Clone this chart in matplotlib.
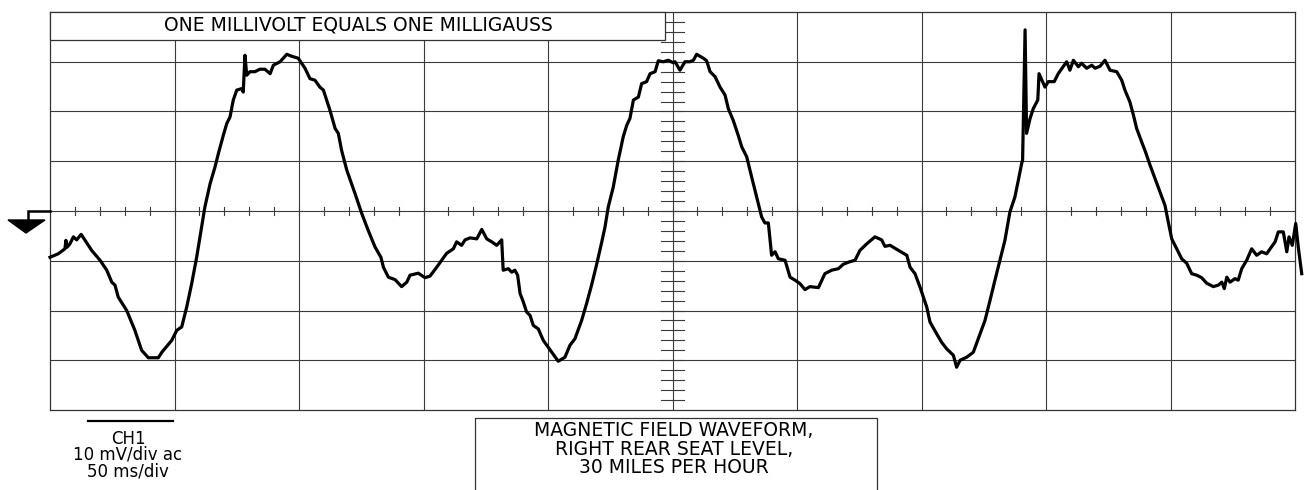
import matplotlib
matplotlib.use("Agg")
import matplotlib.pyplot as plt
from matplotlib.patches import Polygon, Rectangle

# ---- data (time in ms, field in mV == mG) ----
time_ms = [0.0, 3.3, 6.0, 6.4, 6.8, 8.0, 9.4, 10.7, 12.5, 14.1, 16.7, 20.1, 22.8, 24.8, 26.1, 27.4,
           30.8, 34.1, 36.8, 39.5, 43.5, 44.9, 48.9, 50.9, 52.9, 54.9, 56.9, 58.9, 60.9, 62.2,
           64.3, 66.3, 67.6, 69.6, 71.0, 72.3, 73.6, 75.0, 77.0, 77.6, 78.3, 79.0, 80.3, 82.3,
           84.3, 86.3, 88.4, 89.7, 92.4, 95.1, 97.1, 99.7, 102.4, 104.4, 106.4, 108.4, 109.8,
           112.4, 114.5, 115.8, 117.1, 119.2, 122.5, 125.2, 127.8, 130.5, 132.9, 133.9, 135.9,
           138.6, 141.2, 143.3, 144.6, 147.9, 150.6, 152.6, 155.3, 157.3, 159.3, 162.0, 163.3,
           165.3, 166.7, 168.7, 171.4, 173.4, 175.4, 177.4, 179.4, 181.4, 182.0, 184.1, 185.4,
           186.7, 187.8, 188.8, 190.1, 191.4, 192.8, 194.1, 196.1, 198.1, 201.5, 204.1, 206.8,
           208.8, 210.8, 213.5, 215.5, 217.5, 219.6, 221.6, 222.9, 224.2, 226.2, 228.2, 230.2,
           231.6, 232.9, 234.3, 236.3, 237.6, 239.6, 241.0, 243.0, 244.3, 246.3, 248.3, 250.3,
           251.0, 253.0, 255.0, 257.0, 258.4, 259.7, 262.4, 263.7, 265.1, 267.1, 269.1, 271.1,
           272.4, 274.4, 276.4, 277.8, 279.8, 281.8, 283.8, 285.8, 287.1, 288.5, 289.8, 291.2,
           292.5, 295.2, 297.2, 299.2, 301.2, 303.2, 305.2, 308.6, 311.2, 313.9, 316.6, 318.6,
           320.6, 323.3, 325.3, 328.0, 331.3, 334.0, 335.3, 337.4, 340.7, 344.1, 345.4, 347.4,
           349.4, 352.1, 353.4, 356.1, 358.1, 360.1, 362.8, 364.1, 365.5, 368.1, 370.8, 372.8,
           375.5, 377.5, 379.5, 381.5, 383.5, 385.5, 387.5, 388.9, 390.2, 390.6, 390.9, 391.6,
           392.2, 393.6, 394.9, 396.7, 397.2, 399.6, 400.9, 403.3, 404.9, 408.3, 409.6, 411.0,
           413.0, 414.3, 416.3, 418.4, 419.7, 421.7, 423.7, 425.7, 428.4, 430.4, 431.7, 433.7,
           435.1, 436.4, 438.4, 439.8, 441.8, 443.8, 445.8, 447.8, 449.1, 450.5, 452.5, 454.5,
           456.5, 458.5, 460.5, 462.5, 464.5, 467.2, 469.2, 470.6, 471.6, 472.6, 473.9, 475.9,
           477.2, 478.6, 480.6, 482.6, 484.6, 486.6, 488.6, 490.0, 492.0, 493.3, 495.3, 496.7,
           497.6, 498.9, 500.3, 501.3, 502.7]
field_mv = [-9.3, -8.6, -7.6, -5.9, -7.3, -6.6, -5.2, -5.8, -4.7, -5.9, -7.9, -9.9, -11.9, -14.3,
            -14.9, -17.3, -20.0, -24.0, -28.0, -29.5, -29.5, -28.4, -26.0, -24.0, -23.3, -19.3,
            -14.6, -9.3, -3.2, 0.8, 5.5, 8.9, 11.5, 15.2, 17.6, 18.9, 22.3, 24.3, 24.6, 23.9,
            31.3, 27.3, 28.0, 28.0, 28.5, 28.5, 27.6, 29.3, 30.0, 31.5, 31.1, 30.7, 28.7, 26.6,
            26.3, 24.9, 24.3, 20.3, 16.6, 15.6, 12.2, 8.2, 3.5, -0.5, -3.9, -7.2, -9.3, -11.3,
            -13.3, -13.8, -15.2, -14.3, -12.9, -12.5, -13.4, -13.1, -11.3, -9.9, -8.5, -7.6,
            -6.2, -6.9, -5.8, -5.4, -5.6, -3.7, -5.6, -6.2, -6.9, -5.8, -11.9, -11.6, -12.3,
            -11.9, -12.9, -16.6, -18.3, -20.3, -21.0, -23.0, -23.7, -26.0, -28.4, -30.2, -29.4,
            -27.0, -25.7, -22.0, -18.6, -14.9, -10.6, -6.2, -3.2, 0.8, 4.8, 10.2, 14.9, 17.2,
            18.6, 22.3, 22.9, 25.6, 26.0, 27.6, 28.0, 30.2, 30.0, 30.3, 29.8, 30.0, 28.3, 30.0,
            30.0, 30.3, 31.5, 30.7, 30.2, 28.0, 27.0, 24.9, 23.3, 20.6, 18.2, 15.2, 12.9, 10.9,
            6.8, 2.8, -1.2, -2.4, -2.4, -8.9, -8.2, -9.6, -9.9, -13.3, -13.9, -14.6, -15.8,
            -15.2, -15.4, -12.6, -11.9, -11.6, -10.7, -10.3, -9.9, -7.9, -6.6, -5.2, -5.8, -7.1,
            -6.9, -7.9, -8.9, -11.3, -12.6, -15.3, -19.3, -22.3, -24.7, -26.4, -27.7, -29.0,
            -31.4, -30.0, -29.4, -28.4, -25.7, -22.0, -18.0, -13.9, -9.9, -5.9, -0.2, 2.8, 6.2,
            9.5, 10.2, 18.2, 36.4, 15.6, 18.6, 20.6, 22.3, 27.6, 24.9, 26.0, 26.0, 27.6, 30.0,
            28.3, 30.3, 29.0, 29.7, 28.7, 29.3, 28.7, 29.1, 30.3, 28.3, 28.0, 26.3, 24.3, 21.9,
            19.3, 16.6, 13.9, 12.1, 9.2, 6.5, 3.8, 1.1, -2.2, -5.6, -7.6, -9.6, -10.5, -12.6,
            -12.9, -13.4, -14.5, -15.2, -14.9, -14.3, -15.6, -13.3, -14.3, -13.6, -13.9, -11.6,
            -9.9, -7.6, -8.9, -8.2, -8.6, -7.6, -6.2, -4.2, -4.2, -8.2, -5.2, -6.9, -2.5, -7.2,
            -12.6]

t_min, t_max, t_div = 0, 500, 50
v_min, v_max, v_div = -40, 40, 10

title_text = "ONE MILLIVOLT EQUALS ONE MILLIGAUSS"
caption_lines = ["MAGNETIC FIELD WAVEFORM,", "RIGHT REAR SEAT LEVEL,", "30 MILES PER HOUR"]
scale_lines = ["CH1", "10 mV/div ac", "50 ms/div"]

# ---- figure ----
W, H = 1305, 490
fig = plt.figure(figsize=(W / 100, H / 100), dpi=100)
plt.rcParams['font.family'] = ['DejaVu Sans']

L, R, T, B = 50, 1295, 12, 410
ax = fig.add_axes([L / W, 1 - B / H, (R - L) / W, (B - T) / H])
ax.set_xlim(t_min, t_max)
ax.set_ylim(v_min, v_max)
ax.set_xticks([])
ax.set_yticks([])
for s in ax.spines.values():
    s.set_linewidth(0.9)
    s.set_color('#333333')

gcol = '#3a3a3a'
for k in range(1, 10):
    ax.axvline(t_min + k * t_div, color=gcol, lw=0.8, zorder=1)
for k in range(1, 8):
    ax.axhline(v_min + k * v_div, color=gcol, lw=0.8, zorder=1)

# minor ticks on centre axes
tc = (t_min + t_max) / 2
vc = (v_min + v_max) / 2
for k in range(1, 50):
    t = t_min + k * t_div / 5
    ax.plot([t, t], [vc - 0.8, vc + 0.8], color=gcol, lw=0.8, zorder=1)
for k in range(1, 40):
    v = v_min + k * v_div / 5
    ax.plot([tc - 4.8, tc + 4.8], [v, v], color=gcol, lw=0.8, zorder=1)

ax.plot(time_ms, field_mv, color='black', lw=2.3, solid_joinstyle='round',
        clip_on=False, zorder=3)

# ---- overlay for annotations, in pixel coordinates ----
ov = fig.add_axes([0, 0, 1, 1], facecolor='none')
ov.set_xlim(0, W)
ov.set_ylim(H, 0)
ov.axis('off')

# title box
ov.add_patch(Rectangle((50, 12), 615, 28, fill=True, facecolor='white',
                       edgecolor='#333333', lw=0.9, zorder=5))
ov.text(358, 25, title_text, ha='center', va='center', fontsize=13.5, zorder=6)

# caption box (open at the bottom)
ov.plot([475, 475, 877, 877], [495, 418, 418, 495], color='#333333', lw=0.9)
for i, line in enumerate(caption_lines):
    ov.text(674, 430.5 + i * 18.6, line, ha='center', va='center', fontsize=13.5)

# scale label
ov.plot([88, 173], [421, 421], color='black', lw=1.6)
for i, line in enumerate(scale_lines):
    ov.text(128, 438.5 + i * 16.3, line, ha='center', va='center', fontsize=12)

# trigger marker
ov.plot([50, 28, 28], [211, 211, 221], color='black', lw=1.8, solid_joinstyle='miter')
ov.add_patch(Polygon([(8, 220), (45, 220), (26, 233)], closed=True,
                     facecolor='black', edgecolor='black'))

fig.savefig("out.png", dpi=100)
